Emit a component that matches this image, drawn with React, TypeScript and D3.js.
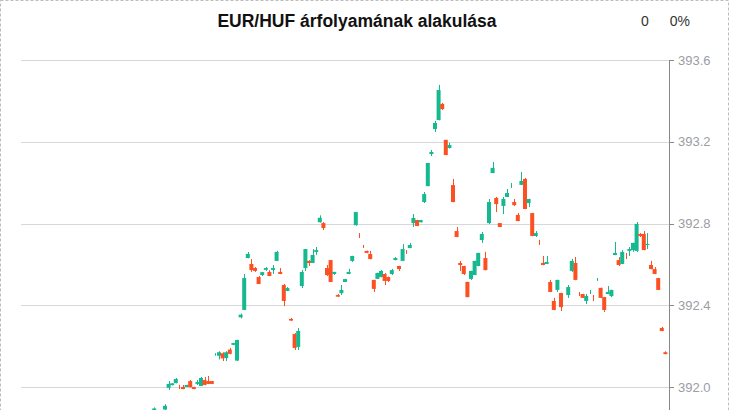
import React from "react";
import * as d3 from "d3";

const title = "EUR/HUF árfolyamának alakulása";
const changeValue = "0";
const changePercent = "0%";
const yTicks = [392.0, 392.4, 392.8, 393.2, 393.6];

const slots = [0,3,4,5,6,7,8,9,10,11,12,13,14,15,16,17,18,19,20,21,22,23,24,25,26,27,28,29,30,31,32,33,34,35,36,37,38,39,40,41,42,43,44,45,46,47,48,49,50,51,52,53,54,55,56,57,58,59,60,61,62,63,64,65,66,67,68,69,70,71,72,73,74,75,76,77,78,79,80,81,82,83,84,85,86,87,88,89,90,91,92,93,94,95,96,97,98,99,100,101,102,103,104,105,106,107,108,109,110,111,112,113,115,116,117,118,119,120,121,122,123,124,125,126,127,128,129,130,131,132,133,134,135,136,137,138,139,140,141,142];

const opens = [391.880,391.890,391.996,392.009,392.019,392.004,392.000,392.000,392.029,392.000,392.015,392.005,392.034,392.029,392.029,392.160,392.153,392.165,392.142,392.183,392.206,392.129,392.341,392.377,392.631,392.602,392.582,392.538,392.548,392.573,392.563,392.573,392.617,392.563,392.499,392.470,392.333,392.259,392.196,392.494,392.582,392.617,392.607,392.661,392.806,392.802,392.582,392.621,392.553,392.450,392.459,392.514,392.553,392.617,392.792,392.742,392.690,392.666,392.651,392.524,392.529,392.538,392.553,392.538,392.553,392.621,392.592,392.617,392.662,392.680,392.802,392.817,392.806,392.905,392.983,393.140,393.262,393.306,393.385,393.209,393.169,392.988,392.763,392.607,392.592,392.514,392.529,392.548,392.592,392.719,392.631,392.802,393.047,392.925,392.802,392.886,392.930,392.990,392.905,392.842,392.989,393.018,392.900,392.851,392.739,392.715,392.607,392.602,392.514,392.421,392.475,392.460,392.450,392.568,392.607,392.456,392.455,392.421,392.465,392.440,392.524,392.485,392.440,392.455,392.445,392.646,392.621,392.602,392.650,392.666,392.670,392.666,392.749,392.749,392.695,392.597,392.577,392.533,392.289,392.170];

const highs = [391.900,391.916,392.029,392.019,392.044,392.011,392.010,392.011,392.034,392.001,392.034,392.049,392.049,392.054,392.030,392.166,392.175,392.170,392.175,392.191,392.216,392.231,392.359,392.553,392.661,392.626,392.587,392.543,392.563,392.587,392.572,392.597,392.666,392.582,392.504,392.489,392.338,392.264,392.289,392.572,392.676,392.621,392.675,392.685,392.840,392.807,392.597,392.622,392.564,392.455,392.499,392.529,392.578,392.642,392.857,392.753,392.695,392.667,392.666,392.525,392.559,392.572,392.558,392.540,392.578,392.636,392.593,392.700,392.670,392.705,392.846,392.818,392.818,392.954,393.097,393.160,393.302,393.478,393.390,393.210,393.194,393.018,392.783,392.617,392.593,392.515,392.569,392.618,392.657,392.759,392.661,392.920,393.101,392.930,392.803,392.930,392.969,392.998,392.920,392.851,393.052,393.023,392.921,392.852,392.763,392.720,392.641,392.641,392.524,392.436,392.525,392.461,392.499,392.627,392.636,392.465,392.456,392.455,392.475,392.450,392.533,392.486,392.441,392.494,392.476,392.710,392.636,392.670,392.656,392.685,392.706,392.807,392.753,392.763,392.753,392.617,392.587,392.534,392.294,392.175];

const lows = [391.870,391.887,391.985,392.008,392.018,391.990,391.989,391.999,391.998,391.989,392.010,392.004,392.009,392.014,392.014,392.153,392.135,392.127,392.127,392.160,392.205,392.128,392.336,392.376,392.630,392.563,392.563,392.503,392.543,392.568,392.542,392.553,392.616,392.552,392.396,392.469,392.324,392.181,392.181,392.484,392.568,392.592,392.606,392.646,392.805,392.768,392.543,392.513,392.548,392.441,392.450,392.513,392.552,392.612,392.789,392.729,392.680,392.655,392.625,392.465,392.528,392.537,392.499,392.514,392.548,392.620,392.568,392.616,392.651,392.679,392.783,392.787,392.805,392.900,392.982,393.130,393.248,393.305,393.355,393.134,393.168,392.904,392.733,392.568,392.548,392.439,392.524,392.547,392.591,392.705,392.571,392.797,393.046,392.856,392.782,392.846,392.929,392.974,392.885,392.811,392.988,392.870,392.880,392.738,392.734,392.695,392.596,392.601,392.464,392.376,392.465,392.372,392.436,392.563,392.523,392.445,392.435,392.406,392.455,392.420,392.519,392.435,392.367,392.454,392.440,392.645,392.592,392.601,392.626,392.641,392.661,392.661,392.734,392.669,392.675,392.576,392.552,392.474,392.273,392.160];

const closes = [391.895,391.908,392.015,392.018,392.039,392.003,391.990,392.010,391.999,391.990,392.024,392.044,392.010,392.015,392.015,392.160,392.170,392.140,392.170,392.162,392.215,392.230,392.354,392.533,392.651,392.572,392.568,392.504,392.562,392.582,392.543,392.582,392.661,392.553,392.421,392.484,392.325,392.191,392.274,392.563,392.675,392.607,392.646,392.670,392.828,392.778,392.548,392.514,392.563,392.442,392.475,392.528,392.563,392.641,392.856,392.741,392.689,392.656,392.626,392.480,392.558,392.568,392.519,392.519,392.572,392.631,392.577,392.675,392.661,392.695,392.827,392.788,392.817,392.944,393.096,393.150,393.292,393.453,393.360,393.135,393.184,392.905,392.734,392.597,392.553,392.440,392.568,392.617,392.656,392.749,392.572,392.905,393.072,392.895,392.783,392.920,392.949,392.990,392.890,392.812,393.008,392.871,392.920,392.739,392.753,392.714,392.597,392.612,392.465,392.377,392.524,392.391,392.489,392.617,392.524,392.455,392.436,392.445,392.465,392.439,392.524,392.436,392.377,392.465,392.475,392.656,392.597,392.661,392.649,392.675,392.705,392.798,392.739,392.670,392.700,392.577,392.553,392.475,392.274,392.161];

const W = 730;
const H = 410;
const UP = "#16b98f";
const DOWN = "#fd5022";

export default function App() {
  const x = d3.scaleLinear().domain([-37, 143]).range([21, 669]);
  const y = d3.scaleLinear().domain([392.0, 393.6]).range([387, 60]);
  const bodyW = 4;

  const candles = slots.map((s, i) => ({
    s,
    o: opens[i],
    h: highs[i],
    l: lows[i],
    c: closes[i],
  }));

  return (
    <svg
      width={W}
      height={H}
      style={{ position: "absolute", left: 0, top: 0, background: "#fff" }}
      fontFamily="'Liberation Sans', Arial, sans-serif"
    >
      <rect x={0.5} y={0.5} width={728} height={430} fill="none" stroke="#bdbdbd" strokeDasharray="3,2" />
      <text x={357} y={27} textAnchor="middle" fontSize={17.5} fontWeight="bold" fill="#111">
        {title}
      </text>
      <text x={645} y={26} textAnchor="middle" fontSize={14} fill="#333">{changeValue}</text>
      <text x={690} y={26} textAnchor="end" fontSize={14} fill="#333">{changePercent}</text>

      {yTicks.map((t) => (
        <g key={t}>
          <line x1={21} x2={669} y1={Math.round(y(t)) + 0.5} y2={Math.round(y(t)) + 0.5} stroke="#d6d8db" />
          <line x1={669} x2={674} y1={Math.round(y(t)) + 0.5} y2={Math.round(y(t)) + 0.5} stroke="#888" />
          <text x={678} y={y(t) + 4.5} fontSize={13} fill="#9a9da3">{t.toFixed(1)}</text>
        </g>
      ))}
      <line x1={669.5} x2={669.5} y1={60} y2={H} stroke="#888" />

      {candles.map((d) => {
        const up = d.c >= d.o;
        const col = up ? UP : DOWN;
        const cx = x(d.s);
        const top = y(Math.max(d.o, d.c));
        const bot = y(Math.min(d.o, d.c));
        const bh = bot - top;
        return (
          <g key={d.s}>
            <line x1={Math.round(cx) + 0.5} x2={Math.round(cx) + 0.5} y1={y(d.h)} y2={y(d.l)} stroke={col} strokeWidth={1} />
            {bh >= 1 && (
              <rect x={cx - bodyW / 2} y={top} width={bodyW} height={bh} fill={col} />
            )}
          </g>
        );
      })}
    </svg>
  );
}
